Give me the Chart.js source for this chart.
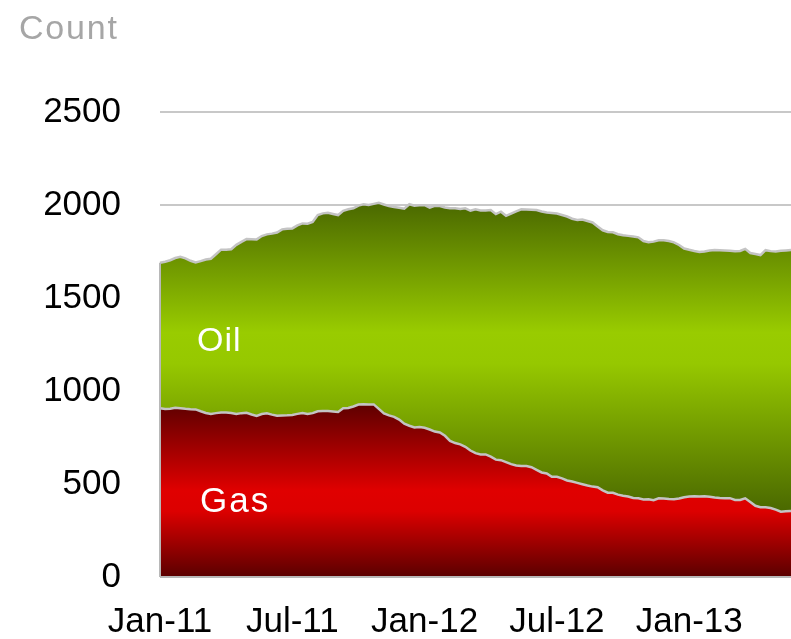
<!DOCTYPE html>
<html>
<head>
<meta charset="utf-8">
<script src="https://cdn.jsdelivr.net/npm/chart.js@4/dist/chart.umd.min.js"></script>
<style>
  html, body { margin: 0; padding: 0; background: #ffffff; }
  #wrap { position: relative; width: 791px; height: 639px; overflow: hidden; }
  canvas { position: absolute; left: 0; top: 0; }
  .lbl { position: absolute; font-family: "Liberation Sans", Arial, sans-serif; line-height: 1; white-space: nowrap; }
  #count { left: 19px; top: 10px; font-size: 34px; color: #a6a6a6; letter-spacing: 1.8px; }
  #oil { left: 197px; top: 322px; font-size: 34px; color: #ffffff; letter-spacing: 1px; }
  #gas { left: 200px; top: 482px; font-size: 35px; color: #ffffff; letter-spacing: 2px; }
</style>
</head>
<body>
<div id="wrap">
  <canvas id="c" width="791" height="639"></canvas>
  <div class="lbl" id="count">Count</div>
  <div class="lbl" id="oil">Oil</div>
  <div class="lbl" id="gas">Gas</div>
</div>
<script>
// Weekly rig counts, Jan 2011 onward (125 weeks)
const gasCounts = [
  907, 903, 905, 910, 907, 904, 902, 901, 891, 882,
  876, 881, 885, 884, 882, 876, 881, 883, 874, 866,
  876, 880, 873, 867, 868, 869, 871, 877, 882, 876,
  881, 891, 892, 892, 890, 887, 907, 909, 917, 927,
  929, 928, 928, 904, 880, 869, 861, 846, 824, 813,
  804, 806, 802, 793, 782, 777, 759, 732, 720, 713,
  700, 680, 666, 659, 659, 647, 631, 628, 618, 607,
  600, 597, 597, 590, 576, 562, 557, 539, 539, 530,
  519, 513, 506, 499, 492, 486, 483, 466, 453, 453,
  443, 437, 433, 425, 423, 417, 418, 413, 423, 422,
  419, 418, 422, 429, 433, 434, 433, 434, 432, 427,
  425, 424, 424, 414, 414, 423, 403, 383, 375, 375,
  371, 362, 351, 353, 355
];
const oilCounts = [
  783, 792, 798, 805, 814, 809, 798, 790, 807, 825,
  835, 854, 875, 876, 880, 910, 921, 934, 942, 949,
  957, 962, 973, 985, 1001, 1003, 1003, 1013, 1019, 1023,
  1028, 1055, 1063, 1066, 1062, 1059, 1062, 1068, 1065, 1070,
  1075, 1072, 1078, 1108, 1123, 1125, 1128, 1139, 1156, 1191,
  1192, 1192, 1197, 1193, 1214, 1218, 1228, 1251, 1262, 1265,
  1282, 1289, 1311, 1312, 1311, 1326, 1320, 1336, 1324, 1347,
  1366, 1380, 1379, 1385, 1397, 1403, 1403, 1418, 1415, 1416,
  1419, 1413, 1413, 1423, 1422, 1420, 1401, 1398, 1402, 1400,
  1400, 1400, 1401, 1406, 1403, 1389, 1382, 1390, 1387, 1388,
  1387, 1381, 1363, 1337, 1326, 1319, 1315, 1316, 1323, 1331,
  1332, 1332, 1330, 1338, 1339, 1341, 1339, 1354, 1356, 1382,
  1381, 1388, 1403, 1403, 1403
];
const tickLabels = ['Jan-11', 'Jul-11', 'Jan-12', 'Jul-12', 'Jan-13'];
const tickWeeks = [0, 26, 52, 78, 104];
const yTicks = [0, 500, 1000, 1500, 2000, 2500];

const weekIndex = gasCounts.map((_, i) => i);
const totals = gasCounts.map((g, i) => g + oilCounts[i]);
const zeros = gasCounts.map(() => 0);

function bandGradient(chart, lowVals, highVals, stops) {
  const { ctx, chartArea, scales } = chart;
  if (!chartArea) return null;
  const y0 = scales.y.getPixelForValue(Math.max(...highVals));
  const y1 = scales.y.getPixelForValue(Math.min(...lowVals));
  const g = ctx.createLinearGradient(0, y0, 0, y1);
  stops.forEach(s => g.addColorStop(s[0], s[1]));
  return g;
}

const leftEdge = {
  id: 'leftEdge',
  afterDatasetsDraw(chart) {
    const { ctx, chartArea, scales } = chart;
    const x = chartArea.left;
    const yb = scales.y.getPixelForValue(0);
    ctx.save();
    ctx.strokeStyle = '#b8b8b8';
    ctx.lineWidth = 2;
    ctx.beginPath();
    ctx.moveTo(x, yb);
    ctx.lineTo(x, scales.y.getPixelForValue(totals[0]));
    ctx.moveTo(x, yb);
    ctx.lineTo(chartArea.right, yb);
    ctx.stroke();
    ctx.restore();
  }
};

const tickFont = { family: '"Liberation Sans", Arial, sans-serif', size: 35 };

new Chart(document.getElementById('c'), {
  type: 'line',
  data: {
    labels: weekIndex,
    datasets: [
      {
        label: 'Gas',
        data: gasCounts,
        fill: 'origin',
        borderColor: '#c4c4c4',
        borderWidth: 2.5,
        pointRadius: 0,
        tension: 0,
        backgroundColor: (c) => bandGradient(c.chart, zeros, gasCounts, [
          [0, '#5e0000'], [0.5, '#e00000'], [0.62, '#dc0000'], [1, '#5a0000']
        ])
      },
      {
        label: 'Oil',
        data: oilCounts,
        fill: '-1',
        borderColor: '#c4c4c4',
        borderWidth: 2.5,
        pointRadius: 0,
        tension: 0,
        backgroundColor: (c) => bandGradient(c.chart, gasCounts, totals, [
          [0, '#4a6800'], [0.42, '#99cc00'], [0.52, '#96c800'], [1, '#4a6800']
        ])
      }
    ]
  },
  options: {
    responsive: false,
    animation: false,
    layout: { padding: { top: 112, right: 0, left: 0, bottom: 0 } },
    plugins: { legend: { display: false }, tooltip: { enabled: false }, title: { display: false } },
    scales: {
      x: {
        type: 'category',
        offset: false,
        grid: { display: false, drawTicks: false },
        border: { display: false },
        afterFit: (s) => { s.paddingLeft = 0; s.paddingRight = 0; s.height = 62; },
        ticks: {
          autoSkip: false,
          maxRotation: 0,
          minRotation: 0,
          padding: 24,
          color: '#000000',
          font: tickFont,
          callback: (v, i) => {
            const k = tickWeeks.indexOf(i);
            return k >= 0 ? tickLabels[k] : '';
          }
        }
      },
      y: {
        stacked: true,
        min: yTicks[0],
        max: yTicks[yTicks.length - 1],
        afterBuildTicks: (axis) => { axis.ticks = yTicks.map(v => ({ value: v })); },
        afterFit: (s) => { s.paddingTop = 0; s.paddingBottom = 0; s.width = 160; },
        grid: { color: '#c8c8c8', lineWidth: 2, drawTicks: false },
        border: { display: false },
        ticks: {
          padding: 39,
          color: '#000000',
          font: tickFont,
          callback: (v) => String(v)
        }
      }
    }
  },
  plugins: [leftEdge]
});
</script>
</body>
</html>
